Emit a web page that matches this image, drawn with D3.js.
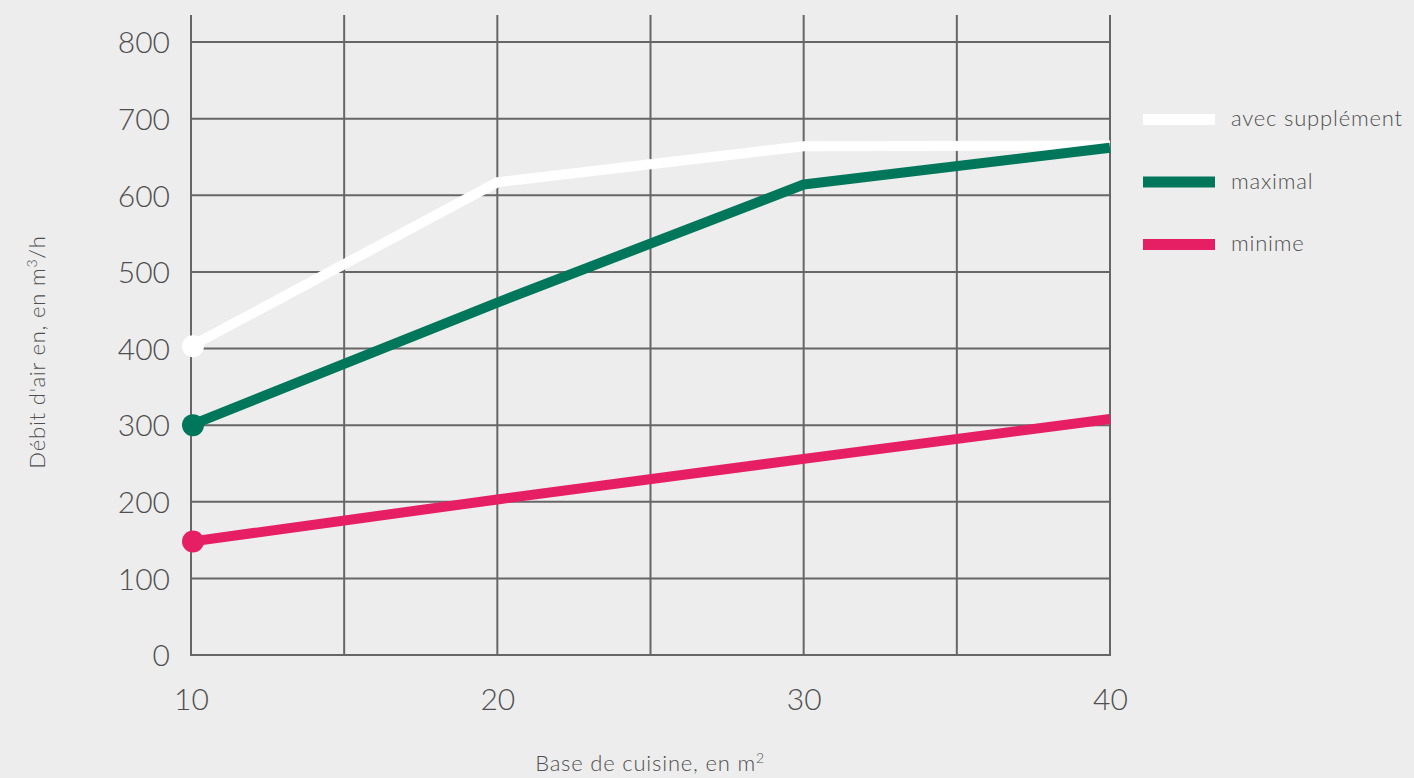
<!DOCTYPE html>
<html>
<head>
<meta charset="utf-8">
<script src="https://cdn.jsdelivr.net/npm/d3@7"></script>
<style>
  body { margin: 0; background: #ededed; }
  svg { display: block; font-family: Futura, "Century Gothic", Lato, sans-serif; }
</style>
</head>
<body>
<div class="chart"></div>
<script>
let width = 1414,
    height = 778;

const surfaces = [10, 20, 30, 40];
const avecSupplement = [403, 617, 664, 665];
const maximal = [300, 460, 614, 662];
const minime = [148, 203, 256, 308];
const yTicks = [0, 100, 200, 300, 400, 500, 600, 700, 800];
const xTicks = [10, 20, 30, 40];
const xGrid = [10, 15, 20, 25, 30, 35, 40];

const series = [
    { name: "avec supplément", values: avecSupplement, color: "#ffffff" },
    { name: "maximal", values: maximal, color: "#00775b" },
    { name: "minime", values: minime, color: "#e61f65" }
];

const fontStack = 'Futura, "Century Gothic", Lato, sans-serif';

document.addEventListener('DOMContentLoaded', () => {
    let svg = d3.select(".chart").append("svg")
        .attr("width", width)
        .attr("height", height);

    svg.append("rect")
        .attr("width", width)
        .attr("height", height)
        .style("fill", "#ededed");

    let x = d3.scaleLinear().domain([10, 40]).range([191, 1110]);
    let y = d3.scaleLinear().domain([0, 800]).range([655, 42]);

    // grid
    let grid = svg.append("g").attr("class", "grid");
    xGrid.forEach(t => {
        grid.append("line")
            .attr("x1", x(t)).attr("x2", x(t))
            .attr("y1", 15).attr("y2", y(0) + 1)
            .style("stroke", "#666")
            .style("stroke-width", 2);
    });
    yTicks.forEach(t => {
        grid.append("line")
            .attr("x1", x(10) - 1).attr("x2", x(40) + 1)
            .attr("y1", y(t)).attr("y2", y(t))
            .style("stroke", "#666")
            .style("stroke-width", 2);
    });

    // y axis labels
    let yAxis = svg.append("g")
        .attr("transform", `translate(${x(10)},0)`)
        .call(d3.axisLeft(y).tickValues(yTicks).tickSize(0).tickPadding(21));
    yAxis.attr("font-family", fontStack);
    yAxis.select(".domain").remove();
    yAxis.selectAll("text")
        .style("font-size", "30px")
        .style("font-weight", 300)
        .style("fill", "#4f4f4f")
        .attr("dy", "0.36em");

    // x axis labels
    let xAxis = svg.append("g")
        .attr("transform", `translate(0,${y(0)})`)
        .call(d3.axisBottom(x).tickValues(xTicks).tickSize(0).tickPadding(34));
    xAxis.attr("font-family", fontStack);
    xAxis.select(".domain").remove();
    xAxis.selectAll("text")
        .style("font-size", "30px")
        .style("font-weight", 300)
        .style("fill", "#4f4f4f");

    // lines
    let line = d3.line()
        .x((d, i) => x(surfaces[i]))
        .y(d => y(d));

    series.forEach(s => {
        svg.append("path")
            .datum(s.values)
            .attr("d", line)
            .style("fill", "none")
            .style("stroke", s.color)
            .style("stroke-width", 10)
            .style("stroke-linejoin", "round");
    });
    series.forEach(s => {
        svg.append("circle")
            .attr("cx", x(surfaces[0]) + 2)
            .attr("cy", y(s.values[0]))
            .attr("r", 11)
            .style("fill", s.color);
    });

    // legend
    let legend = svg.append("g");
    series.forEach((s, i) => {
        let ly = 119 + i * 62.5;
        legend.append("rect")
            .attr("x", 1143).attr("y", ly - 5)
            .attr("width", 72).attr("height", 11)
            .style("fill", s.color);
        legend.append("text")
            .attr("x", 1231).attr("y", ly + 7)
            .style("font-size", "22px")
            .style("font-weight", 300)
            .style("letter-spacing", "0.8px")
            .style("fill", "#4f4f4f")
            .text(s.name);
    });

    // axis titles
    let xt = svg.append("text")
        .attr("x", 650).attr("y", 771)
        .attr("text-anchor", "middle")
        .style("font-size", "22px")
        .style("font-weight", 300)
        .style("letter-spacing", "0.8px")
        .style("fill", "#4f4f4f");
    xt.append("tspan").text("Base de cuisine, en m");
    xt.append("tspan").attr("dy", -8).style("font-size", "14px").text("2");

    let yt = svg.append("text")
        .attr("transform", "translate(45,352) rotate(-90)")
        .attr("text-anchor", "middle")
        .style("font-size", "22px")
        .style("font-weight", 300)
        .style("letter-spacing", "0.8px")
        .style("fill", "#4f4f4f");
    yt.append("tspan").text("Débit d'air en, en m");
    yt.append("tspan").attr("dy", -8).style("font-size", "14px").text("3");
    yt.append("tspan").attr("dy", 8).text("/h");
});
</script>
</body>
</html>
